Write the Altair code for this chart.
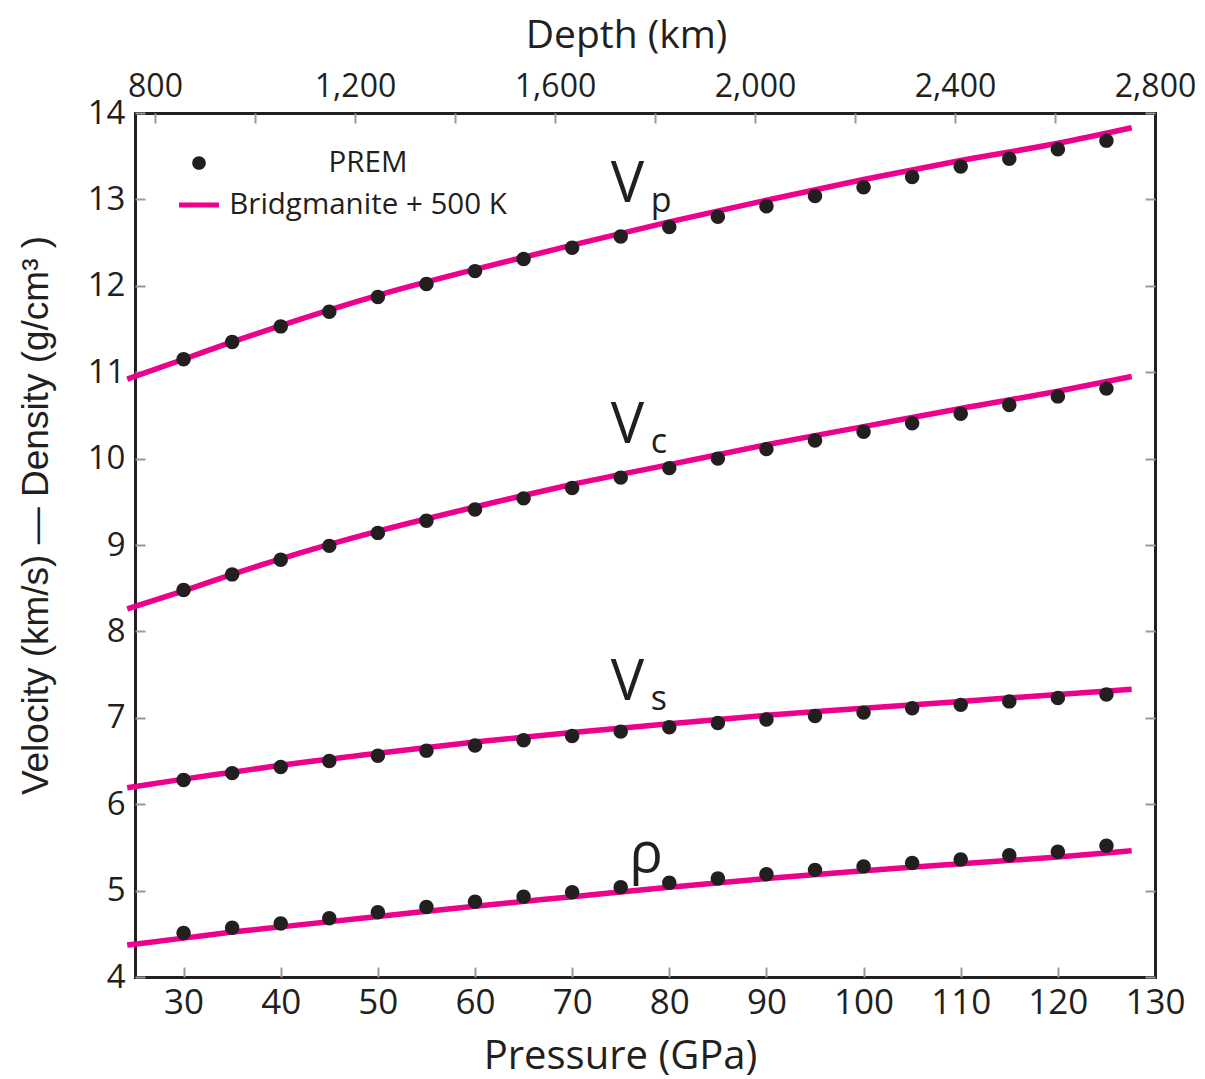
import altair as alt
import pandas as pd

# ---------------- data ----------------
pressure_prem = [30, 35, 40, 45, 50, 55, 60, 65, 70, 75, 80, 85, 90, 95, 100, 105, 110, 115, 120, 125]
vp_prem = [11.15, 11.35, 11.53, 11.70, 11.87, 12.02, 12.17, 12.31, 12.44, 12.57, 12.68, 12.80, 12.92, 13.04, 13.14, 13.26, 13.38, 13.47, 13.58, 13.68]
vc_prem = [8.48, 8.66, 8.83, 8.99, 9.14, 9.28, 9.41, 9.54, 9.66, 9.78, 9.89, 10.00, 10.11, 10.21, 10.31, 10.41, 10.52, 10.62, 10.72, 10.81]
vs_prem = [6.28, 6.36, 6.43, 6.50, 6.56, 6.62, 6.68, 6.74, 6.79, 6.84, 6.89, 6.94, 6.98, 7.02, 7.06, 7.11, 7.15, 7.19, 7.23, 7.27]
rho_prem = [4.51, 4.57, 4.62, 4.68, 4.75, 4.81, 4.87, 4.93, 4.98, 5.04, 5.09, 5.14, 5.19, 5.24, 5.28, 5.32, 5.36, 5.41, 5.45, 5.52]

pressure_fit = [24.2, 30, 35, 40, 50, 60, 70, 80, 90, 100, 110, 120, 127.6]
vp_fit = [10.92, 11.15, 11.35, 11.54, 11.89, 12.19, 12.47, 12.74, 12.99, 13.23, 13.45, 13.65, 13.83]
vc_fit = [8.26, 8.47, 8.66, 8.84, 9.16, 9.44, 9.70, 9.93, 10.16, 10.37, 10.58, 10.78, 10.95]
vs_fit = [6.19, 6.29, 6.37, 6.45, 6.59, 6.72, 6.83, 6.93, 7.03, 7.11, 7.19, 7.27, 7.33]
rho_fit = [4.37, 4.45, 4.52, 4.58, 4.70, 4.82, 4.93, 5.04, 5.14, 5.23, 5.31, 5.39, 5.46]

quantities = ["Vp", "Vc", "Vs", "rho"]
series_names = ["PREM", "Bridgmanite + 500 K"]

pressure_ticks = [30, 40, 50, 60, 70, 80, 90, 100, 110, 120, 130]
value_ticks = [4, 5, 6, 7, 8, 9, 10, 11, 12, 13, 14]
depth_ticks = [800, 1000, 1200, 1400, 1600, 1800, 2000, 2200, 2400, 2600, 2800]

main_labels = ["V", "V", "V", "ρ"]
main_p = [75.7, 75.7, 75.7, 77.6]
main_v = [12.97, 10.18, 7.21, 5.22]
sub_labels = ["p", "c", "s"]
sub_p = [78.1, 78.1, 78.1]
sub_v = [12.85, 10.06, 7.09]

# ---------------- tables ----------------
prem_rows = []
for q, vals in zip(quantities, [vp_prem, vc_prem, vs_prem, rho_prem]):
    for p, v in zip(pressure_prem, vals):
        prem_rows.append({"pressure": p, "value": v, "quantity": q, "series": series_names[0]})
prem_df = pd.DataFrame(prem_rows)

fit_rows = []
for q, vals in zip(quantities, [vp_fit, vc_fit, vs_fit, rho_fit]):
    for p, v in zip(pressure_fit, vals):
        fit_rows.append({"pressure": p, "value": v, "quantity": q, "series": series_names[1]})
fit_df = pd.DataFrame(fit_rows)

main_df = pd.DataFrame({"text": main_labels, "pressure": main_p, "value": main_v})
sub_df = pd.DataFrame({"text": sub_labels, "pressure": sub_p, "value": sub_v})
depth_df = pd.DataFrame({"depth": depth_ticks, "value": [value_ticks[0]] * len(depth_ticks)})

# ---------------- styling ----------------
INK = "#231F20"
MAGENTA = "#EC008C"
TICK = "#9A9A9A"
FONT = "Open Sans"

circle_path = "M-0.34,0A0.34,0.34,0,1,0,0.34,0A0.34,0.34,0,1,0,-0.34,0Z"
bar_path = "M-1,-0.13L1,-0.13L1,0.13L-1,0.13Z"

x_scale = alt.Scale(domain=[25, 130], nice=False, zero=False)
y_scale = alt.Scale(domain=[4, 14], nice=False, zero=False)
color_scale = alt.Scale(domain=series_names, range=[INK, MAGENTA])
shape_scale = alt.Scale(domain=series_names, range=[circle_path, bar_path])


def frame_axis(side):
    # an axis that only draws the plot frame line on one side
    return alt.Axis(
        orient=side, offset=0, domain=True, domainColor=INK, domainWidth=3,
        domainCap="square", ticks=False, labels=False, grid=False, title=None,
    )


x_axis = alt.Axis(
    orient="bottom", values=pressure_ticks, offset=-10, tickSize=10, tickColor=TICK,
    tickWidth=2, domain=False, grid=False, labelFont=FONT, labelFontSize=35,
    labelColor=INK, labelPadding=8, labelFlush=False,
    title="Pressure (GPa)", titleFont=FONT, titleFontSize=40, titleFontWeight="normal",
    titleColor=INK, titleX=485, titleY=101, titleBaseline="alphabetic",
)
y_axis = alt.Axis(
    orient="left", values=value_ticks, offset=-10, tickSize=10, tickColor=TICK,
    tickWidth=2, domain=False, grid=False, labelFont=FONT, labelFontSize=33,
    labelColor=INK, labelPadding=10, labelFlush=False,
    title="Velocity (km/s) — Density (g/cm³ )", titleFont="Liberation Sans",
    titleFontSize=37, titleFontWeight="normal", titleColor=INK,
    titleX=-98, titleY=402, titleBaseline="alphabetic", titleAlign="center",
)
depth_axis = alt.Axis(
    orient="top", values=depth_ticks, offset=-10, tickSize=10, tickColor=TICK,
    tickWidth=2, domain=False, grid=False, labelFont=FONT, labelFontSize=32,
    labelColor=INK, labelPadding=10, labelFlush=False,
    labelExpr="datum.value % 400 == 0 ? format(datum.value, ',') : ''",
    title="Depth (km)", titleFont=FONT, titleFontSize=39, titleFontWeight="normal",
    titleColor=INK, titleX=491, titleY=-76, titleBaseline="alphabetic",
)
right_axis = alt.Axis(
    orient="right", values=value_ticks, offset=-10, tickSize=10, tickColor=TICK,
    tickWidth=2, domain=False, grid=False, labels=False, title=None,
)

legend = alt.Legend(
    title=None, orient="none", legendX=44, legendY=30, padding=0,
    symbolSize=1600, symbolStrokeWidth=0, rowPadding=7,
    labelFont=FONT, labelFontSize=29.5, labelColor=INK, labelAlign="center",
    labelOffset=149, labelLimit=500,
)

lines = alt.Chart(fit_df).mark_line(
    strokeWidth=5.5, interpolate="monotone", clip=False, color=MAGENTA
).encode(
    x=alt.X("pressure:Q", scale=x_scale, axis=frame_axis("bottom")),
    y=alt.Y("value:Q", scale=y_scale, axis=frame_axis("left")),
    detail="quantity:N",
)

points = alt.Chart(prem_df).mark_point(filled=True, size=1800, opacity=1, strokeWidth=0).encode(
    x=alt.X("pressure:Q", scale=x_scale, axis=x_axis),
    y=alt.Y("value:Q", scale=y_scale, axis=y_axis),
    color=alt.Color("series:N", scale=color_scale, legend=legend),
    shape=alt.Shape("series:N", scale=shape_scale, legend=legend),
)

main_text = alt.Chart(main_df).mark_text(
    font=FONT, fontSize=56, color=INK, align="center", baseline="alphabetic"
).encode(
    x=alt.X("pressure:Q", scale=x_scale, axis=frame_axis("top")),
    y=alt.Y("value:Q", scale=y_scale, axis=frame_axis("right")),
    text="text:N",
)

sub_text = alt.Chart(sub_df).mark_text(
    font=FONT, fontSize=34, color=INK, align="left", baseline="alphabetic"
).encode(
    x=alt.X("pressure:Q", scale=x_scale, axis=None),
    y=alt.Y("value:Q", scale=y_scale, axis=None),
    text="text:N",
)

depth_layer = alt.Chart(depth_df).mark_point(opacity=0, size=1).encode(
    x=alt.X("depth:Q", scale=alt.Scale(domain=[760, 2800], nice=False, zero=False), axis=depth_axis),
    y=alt.Y("value:Q", scale=y_scale, axis=right_axis),
)

chart = alt.layer(lines, points, main_text, sub_text, depth_layer).resolve_scale(
    x="independent", y="independent"
).properties(
    width=1020, height=864,
    background="white",
    autosize=alt.AutoSizeParams(type="none"),
    padding={"left": 127, "top": 105, "right": 42, "bottom": 102},
).configure_view(stroke=None)

chart.save("out.html", embed_options={"renderer": "svg", "actions": False})
